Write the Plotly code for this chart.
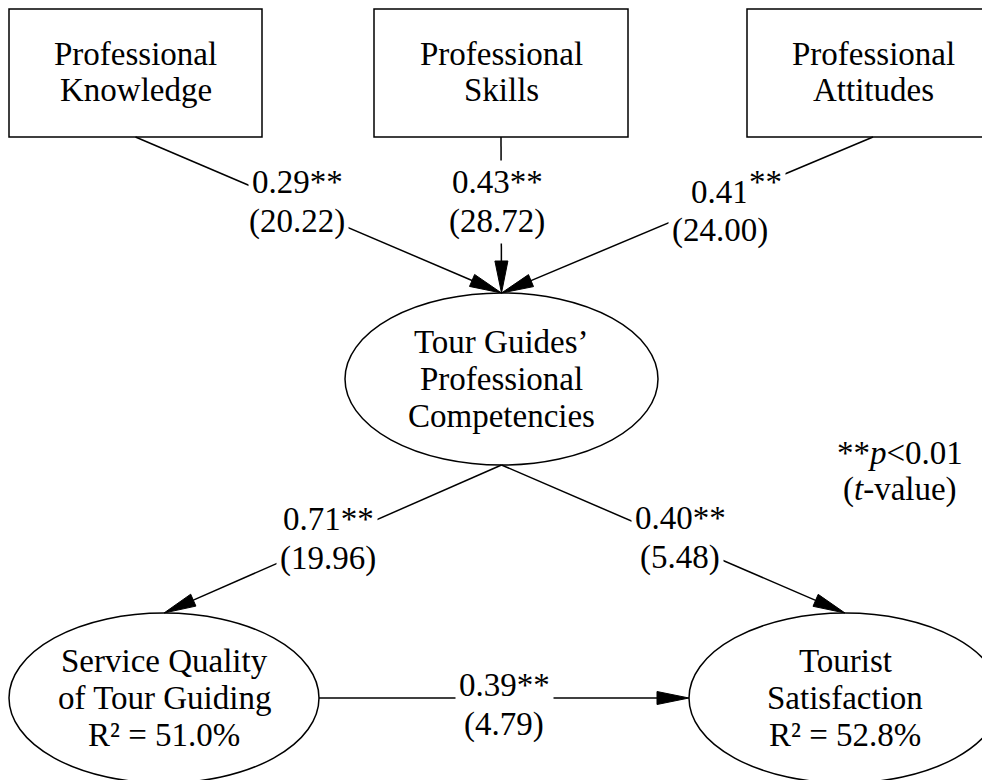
import math
import plotly.graph_objects as go

# ---------------- data ----------------
box_names = ["PK", "PS", "PA"]
box_labels = [["Professional", "Knowledge"],
              ["Professional", "Skills"],
              ["Professional", "Attitudes"]]
ellipse_names = ["TGPC", "SQ", "TS"]
ellipse_labels = [["Tour Guides’", "Professional", "Competencies"],
                  ["Service Quality", "of Tour Guiding"],
                  ["Tourist", "Satisfaction"]]
r2_values = [None, 51.0, 52.8]

edge_from = ["PK", "PS", "PA", "TGPC", "TGPC", "SQ"]
edge_to = ["TGPC", "TGPC", "TGPC", "SQ", "TS", "TS"]
path_coefs = [0.29, 0.43, 0.41, 0.71, 0.40, 0.39]
t_values = [20.22, 28.72, 24.00, 19.96, 5.48, 4.79]
significance = ["**", "**", "**", "**", "**", "**"]

legend_lines = ["**<i>p</i>&lt;0.01", "(<i>t</i>-value)"]

# ---------------- layout (pixel space) ----------------
W, H = 990, 780
OFF = 8  # default page body margin
FONT = "Liberation Serif, Times New Roman, serif"
FS_NODE = 33
FS_LAB = 33
LW = 1.5

box_geom = {"PK": (9, 9, 262, 137), "PS": (374, 9, 628, 137), "PA": (747, 9, 999, 137)}
ell_geom = {"TGPC": (501.5, 379, 156.5, 86), "SQ": (164, 698, 155, 85), "TS": (845, 698, 156, 85)}

edge_ports = [("bottom", "top"), ("bottom", "top"), ("bottom", "top"),
              ("bottom", "top"), ("bottom", "top"), ("right", "left")]
label_pos = [(297, 182, False), (497, 182, False), (720, 192, True),
             (328, 519, False), (680, 518, False), (504, 685, False)]
LABEL_GAP = 39


def port(name, side):
    if name in box_geom:
        x0, y0, x1, y1 = box_geom[name]
        cx, cy = (x0 + x1) / 2, (y0 + y1) / 2
        return {"bottom": (cx, y1), "top": (cx, y0), "left": (x0, cy), "right": (x1, cy)}[side]
    cx, cy, rx, ry = ell_geom[name]
    return {"bottom": (cx, cy + ry), "top": (cx, cy - ry), "left": (cx - rx, cy), "right": (cx + rx, cy)}[side]


fig = go.Figure()
fig.add_trace(go.Scatter(x=[OFF, W], y=[OFF, H], mode="markers", marker=dict(opacity=0),
                         hoverinfo="skip", showlegend=False))

shapes = []
annotations = []

for name, lines in zip(box_names, box_labels):
    x0, y0, x1, y1 = box_geom[name]
    shapes.append(dict(type="rect", x0=x0, y0=y0, x1=x1, y1=y1, line=dict(color="black", width=LW), fillcolor="white"))
    cx = (x0 + x1) / 2
    for i, t in enumerate(lines):
        annotations.append(dict(x=cx, y=54 + 36 * i, text=t, showarrow=False, xanchor="center", yanchor="middle",
                                font=dict(family=FONT, size=FS_NODE, color="black")))

for name, lines, r2 in zip(ellipse_names, ellipse_labels, r2_values):
    cx, cy, rx, ry = ell_geom[name]
    shapes.append(dict(type="circle", x0=cx - rx, y0=cy - ry, x1=cx + rx, y1=cy + ry,
                       line=dict(color="black", width=LW), fillcolor="white"))
    txt = list(lines)
    if r2 is not None:
        txt.append(f"R² = {r2:.1f}%")
    for i, t in enumerate(txt):
        annotations.append(dict(x=cx, y=cy - 37 + 37 * i, text=t, showarrow=False, xanchor="center", yanchor="middle",
                                font=dict(family=FONT, size=FS_NODE, color="black")))

AL, AW = 32, 6.5
for f, t, (pf, pt), coef, tv, sig, (lx, ly, raised) in zip(edge_from, edge_to, edge_ports, path_coefs,
                                                            t_values, significance, label_pos):
    x0, y0 = port(f, pf)
    x1, y1 = port(t, pt)
    dx, dy = x1 - x0, y1 - y0
    L = math.hypot(dx, dy)
    ux, uy = dx / L, dy / L
    bx, by = x1 - ux * AL, y1 - uy * AL
    px, py = -uy, ux
    shapes.append(dict(type="line", x0=x0, y0=y0, x1=bx, y1=by, line=dict(color="black", width=LW)))
    path = f"M {x1},{y1} L {bx + px * AW},{by + py * AW} L {bx - px * AW},{by - py * AW} Z"
    shapes.append(dict(type="path", path=path, fillcolor="black", line=dict(color="black", width=1)))

    fnt = dict(family=FONT, size=FS_LAB, color="black")
    if raised:
        annotations.append(dict(x=lx, y=ly, text=f"{coef:.2f}", showarrow=False, xanchor="center", yanchor="middle",
                                font=fnt, bgcolor="white", borderpad=3))
        annotations.append(dict(x=lx + 25, y=ly - 10, text=sig, showarrow=False, xanchor="left", yanchor="middle",
                                font=fnt, bgcolor="white", borderpad=3))
    else:
        annotations.append(dict(x=lx, y=ly, text=f"{coef:.2f}{sig}", showarrow=False, xanchor="center",
                                yanchor="middle", font=fnt, bgcolor="white", borderpad=3))
    annotations.append(dict(x=lx, y=ly + LABEL_GAP - (1 if raised else 0), text=f"({tv:.2f})", showarrow=False,
                            xanchor="center", yanchor="middle", font=fnt, bgcolor="white", borderpad=3))

for i, t in enumerate(legend_lines):
    annotations.append(dict(x=900, y=453 + 36 * i, text=t, showarrow=False, xanchor="center", yanchor="middle",
                            font=dict(family=FONT, size=FS_NODE, color="black")))

fig.update_layout(
    width=W - OFF, height=H - OFF, margin=dict(l=0, r=0, t=0, b=0),
    paper_bgcolor="white", plot_bgcolor="white",
    xaxis=dict(range=[OFF, W], visible=False, fixedrange=True),
    yaxis=dict(range=[H, OFF], visible=False, fixedrange=True),
    shapes=shapes, annotations=annotations, showlegend=False,
)
fig.write_html("out.html", config={"displayModeBar": False})
